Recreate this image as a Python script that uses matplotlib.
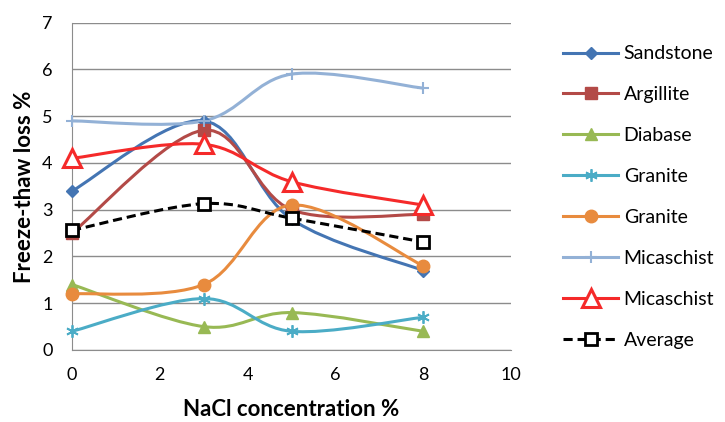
import matplotlib
matplotlib.use("Agg")
import matplotlib.pyplot as plt
from matplotlib.path import Path
from matplotlib.patches import PathPatch
from matplotlib.lines import Line2D
import numpy as np

plt.rcParams['font.family'] = ['Lato', 'DejaVu Sans']

nacl = [0, 3, 5, 8]
sandstone = [3.4, 4.9, 2.8, 1.7]
argillite = [2.5, 4.7, 3.0, 2.9]
diabase = [1.4, 0.5, 0.8, 0.4]
granite1 = [0.4, 1.1, 0.4, 0.7]
granite2 = [1.2, 1.4, 3.1, 1.8]
micaschist1 = [4.9, 4.9, 5.9, 5.6]
micaschist2 = [4.1, 4.4, 3.6, 3.1]
average = [2.56, 3.13, 2.82, 2.31]

labels = ['Sandstone', 'Argillite', 'Diabase', 'Granite', 'Granite',
          'Micaschist', 'Micaschist', 'Average']
series = [sandstone, argillite, diabase, granite1, granite2,
          micaschist1, micaschist2, average]
colors = ['#4475B3', '#B34A47', '#98B954', '#4BACC6', '#E88B3E',
          '#93B1D6', '#F52A2A', 'black']
styles = [
    dict(marker='D', ms=6, mfc='#4475B3', mec='#4475B3', mew=1),
    dict(marker='s', ms=8, mfc='#B34A47', mec='#B34A47', mew=1),
    dict(marker='^', ms=8, mfc='#98B954', mec='#98B954', mew=1),
    dict(marker=(6, 2, 0), ms=9, mfc='#4BACC6', mec='#4BACC6', mew=1.3),
    dict(marker='o', ms=9, mfc='#E88B3E', mec='#E88B3E', mew=1),
    dict(marker='+', ms=9, mfc='#93B1D6', mec='#93B1D6', mew=1.5),
    dict(marker='^', ms=13, mfc='white', mec='#F52A2A', mew=2.2),
    dict(marker='s', ms=9, mfc='white', mec='black', mew=2),
]
linestyles = ['-'] * 7 + [(0, (3, 1.6))]

def smooth_path(xs, ys):
    pts = np.column_stack([xs, ys]).astype(float)
    n = len(pts)
    verts = [pts[0]]
    codes = [Path.MOVETO]
    for i in range(n - 1):
        p0 = pts[i - 1] if i > 0 else pts[i]
        p1 = pts[i]
        p2 = pts[i + 1]
        p3 = pts[i + 2] if i + 2 < n else pts[i + 1]
        c1 = p1 + (p2 - p0) / 6.0
        c2 = p2 - (p3 - p1) / 6.0
        verts += [c1, c2, p2]
        codes += [Path.CURVE4] * 3
    return Path(verts, codes)

fig = plt.figure(figsize=(7.25, 4.22), dpi=100)
ax = fig.add_axes([72 / 725, 1 - 350 / 422, (511 - 72) / 725, (350 - 22.7) / 422])

handles = []
for vals, lab, col, st, ls in zip(series, labels, colors, styles, linestyles):
    patch = PathPatch(smooth_path(nacl, vals), facecolor='none', edgecolor=col,
                      lw=2.2, linestyle=ls, zorder=3, capstyle='butt')
    patch.set_clip_on(False)
    ax.add_patch(patch)
    ax.plot(nacl, vals, linestyle='none', zorder=4, clip_on=False, **st)
    handles.append(Line2D([], [], color=col, lw=2.2, linestyle=ls, **st))

ax.set_xlim(0, 10)
ax.set_ylim(0, 7)
ax.set_xticks(range(0, 11, 2))
ax.set_yticks(range(0, 8))
ax.grid(axis='y', color='#8C8C8C', lw=1)
ax.set_axisbelow(True)
for s in ['top', 'right']:
    ax.spines[s].set_visible(False)
for s in ['left', 'bottom']:
    ax.spines[s].set_color('#8C8C8C')
ax.tick_params(axis='both', length=0, labelsize=13, colors='#404040', pad=10)
ax.tick_params(axis='x', labelcolor='black', pad=12)
ax.tick_params(axis='y', labelcolor='black', pad=14)
ax.set_xlabel('NaCl concentration %', fontsize=16, fontweight='bold', labelpad=12)
ax.set_ylabel('Freeze-thaw loss %', fontsize=16, fontweight='bold', labelpad=5)

fig.legend(handles, labels, loc='upper left', bbox_to_anchor=(0.753, 0.934),
           frameon=False, fontsize=14, handlelength=2.8, handletextpad=0.3,
           labelspacing=1.23)

fig.savefig('out.png', dpi=100)
